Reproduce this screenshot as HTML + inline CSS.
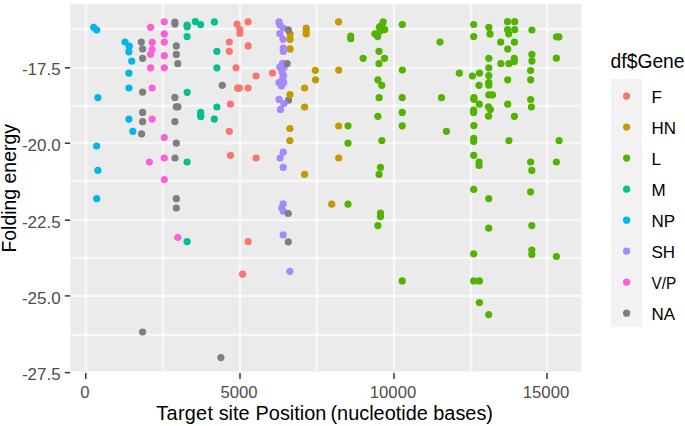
<!DOCTYPE html>
<html><head><meta charset="utf-8"><style>
html,body{margin:0;padding:0;background:#fff;}
body{width:685px;height:426px;overflow:hidden;}
svg{display:block;}
text{font-family:"Liberation Sans",sans-serif;}
.ax{font-size:17px;fill:#4D4D4D;}
.ti{font-size:19.9px;fill:#000;}
.lt{font-size:17px;fill:#000;}
.gl{stroke:#fff;stroke-width:2.0;stroke-opacity:0.58;}
.gw{stroke:#fff;stroke-width:3.3;stroke-opacity:0.22;}
</style></head><body>
<svg width="685" height="426" viewBox="0 0 685 426">
<defs><clipPath id="pc"><rect x="70.2" y="3.9" width="511.10" height="367.60"/></clipPath></defs>
<rect x="70.2" y="3.9" width="511.10" height="367.60" fill="#EBEBEB"/>
<g clip-path="url(#pc)"><line x1="85.80" y1="3.9" x2="85.80" y2="371.5" class="gw"/><line x1="85.80" y1="3.9" x2="85.80" y2="371.5" class="gl"/><line x1="162.90" y1="3.9" x2="162.90" y2="371.5" class="gw"/><line x1="162.90" y1="3.9" x2="162.90" y2="371.5" class="gl"/><line x1="240.00" y1="3.9" x2="240.00" y2="371.5" class="gw"/><line x1="240.00" y1="3.9" x2="240.00" y2="371.5" class="gl"/><line x1="316.80" y1="3.9" x2="316.80" y2="371.5" class="gw"/><line x1="316.80" y1="3.9" x2="316.80" y2="371.5" class="gl"/><line x1="394.00" y1="3.9" x2="394.00" y2="371.5" class="gw"/><line x1="394.00" y1="3.9" x2="394.00" y2="371.5" class="gl"/><line x1="471.00" y1="3.9" x2="471.00" y2="371.5" class="gw"/><line x1="471.00" y1="3.9" x2="471.00" y2="371.5" class="gl"/><line x1="547.00" y1="3.9" x2="547.00" y2="371.5" class="gw"/><line x1="547.00" y1="3.9" x2="547.00" y2="371.5" class="gl"/><line x1="70.2" y1="29.00" x2="581.3" y2="29.00" class="gw"/><line x1="70.2" y1="29.00" x2="581.3" y2="29.00" class="gl"/><line x1="70.2" y1="67.80" x2="581.3" y2="67.80" class="gw"/><line x1="70.2" y1="67.80" x2="581.3" y2="67.80" class="gl"/><line x1="70.2" y1="105.80" x2="581.3" y2="105.80" class="gw"/><line x1="70.2" y1="105.80" x2="581.3" y2="105.80" class="gl"/><line x1="70.2" y1="143.20" x2="581.3" y2="143.20" class="gw"/><line x1="70.2" y1="143.20" x2="581.3" y2="143.20" class="gl"/><line x1="70.2" y1="181.00" x2="581.3" y2="181.00" class="gw"/><line x1="70.2" y1="181.00" x2="581.3" y2="181.00" class="gl"/><line x1="70.2" y1="220.20" x2="581.3" y2="220.20" class="gw"/><line x1="70.2" y1="220.20" x2="581.3" y2="220.20" class="gl"/><line x1="70.2" y1="257.90" x2="581.3" y2="257.90" class="gw"/><line x1="70.2" y1="257.90" x2="581.3" y2="257.90" class="gl"/><line x1="70.2" y1="295.90" x2="581.3" y2="295.90" class="gw"/><line x1="70.2" y1="295.90" x2="581.3" y2="295.90" class="gl"/><line x1="70.2" y1="334.90" x2="581.3" y2="334.90" class="gw"/><line x1="70.2" y1="334.90" x2="581.3" y2="334.90" class="gl"/></g>
<g clip-path="url(#pc)"><circle cx="288.5" cy="100.2" r="3.6" fill="#7F7F7F"/><circle cx="237.1" cy="24.2" r="3.6" fill="#F8766D"/><circle cx="239.8" cy="29.6" r="3.6" fill="#F8766D"/><circle cx="239.8" cy="33.5" r="3.6" fill="#F8766D"/><circle cx="248.1" cy="21.8" r="3.6" fill="#F8766D"/><circle cx="229.3" cy="42.0" r="3.6" fill="#F8766D"/><circle cx="248.1" cy="45.9" r="3.6" fill="#F8766D"/><circle cx="229.3" cy="51.3" r="3.6" fill="#F8766D"/><circle cx="236.0" cy="67.8" r="3.6" fill="#F8766D"/><circle cx="272.5" cy="73.1" r="3.6" fill="#F8766D"/><circle cx="256.1" cy="76.0" r="3.6" fill="#F8766D"/><circle cx="237.6" cy="88.1" r="3.6" fill="#F8766D"/><circle cx="239.4" cy="88.1" r="3.6" fill="#F8766D"/><circle cx="248.1" cy="88.0" r="3.6" fill="#F8766D"/><circle cx="230.5" cy="104.2" r="3.6" fill="#F8766D"/><circle cx="229.3" cy="131.3" r="3.6" fill="#F8766D"/><circle cx="230.5" cy="155.3" r="3.6" fill="#F8766D"/><circle cx="256.1" cy="158.0" r="3.6" fill="#F8766D"/><circle cx="248.1" cy="241.7" r="3.6" fill="#F8766D"/><circle cx="242.6" cy="274.2" r="3.6" fill="#F8766D"/><circle cx="290.1" cy="34.1" r="3.6" fill="#C49A00"/><circle cx="290.1" cy="39.3" r="3.6" fill="#C49A00"/><circle cx="290.1" cy="48.9" r="3.6" fill="#C49A00"/><circle cx="306.2" cy="28.0" r="3.6" fill="#C49A00"/><circle cx="306.2" cy="31.0" r="3.6" fill="#C49A00"/><circle cx="306.2" cy="34.0" r="3.6" fill="#C49A00"/><circle cx="338.6" cy="21.8" r="3.6" fill="#C49A00"/><circle cx="315.3" cy="70.3" r="3.6" fill="#C49A00"/><circle cx="290.0" cy="94.6" r="3.6" fill="#C49A00"/><circle cx="338.7" cy="70.1" r="3.6" fill="#C49A00"/><circle cx="315.5" cy="79.8" r="3.6" fill="#C49A00"/><circle cx="304.6" cy="88.0" r="3.6" fill="#C49A00"/><circle cx="304.6" cy="107.0" r="3.6" fill="#C49A00"/><circle cx="289.9" cy="128.5" r="3.6" fill="#C49A00"/><circle cx="289.9" cy="140.6" r="3.6" fill="#C49A00"/><circle cx="304.6" cy="174.4" r="3.6" fill="#C49A00"/><circle cx="338.7" cy="158.0" r="3.6" fill="#C49A00"/><circle cx="331.7" cy="204.2" r="3.6" fill="#C49A00"/><circle cx="338.7" cy="126.0" r="3.6" fill="#C49A00"/><circle cx="350.7" cy="36.1" r="3.6" fill="#53B400"/><circle cx="350.7" cy="38.7" r="3.6" fill="#53B400"/><circle cx="383.2" cy="21.9" r="3.6" fill="#53B400"/><circle cx="379.4" cy="27.1" r="3.6" fill="#53B400"/><circle cx="384.7" cy="29.6" r="3.6" fill="#53B400"/><circle cx="374.9" cy="33.8" r="3.6" fill="#53B400"/><circle cx="377.7" cy="36.6" r="3.6" fill="#53B400"/><circle cx="402.3" cy="24.5" r="3.6" fill="#53B400"/><circle cx="440.0" cy="42.0" r="3.6" fill="#53B400"/><circle cx="379.0" cy="51.3" r="3.6" fill="#53B400"/><circle cx="363.1" cy="58.3" r="3.6" fill="#53B400"/><circle cx="384.5" cy="58.3" r="3.6" fill="#53B400"/><circle cx="379.0" cy="63.7" r="3.6" fill="#53B400"/><circle cx="402.3" cy="70.0" r="3.6" fill="#53B400"/><circle cx="473.7" cy="24.5" r="3.6" fill="#53B400"/><circle cx="473.7" cy="36.6" r="3.6" fill="#53B400"/><circle cx="488.8" cy="27.3" r="3.6" fill="#53B400"/><circle cx="490.0" cy="33.9" r="3.6" fill="#53B400"/><circle cx="507.5" cy="21.7" r="3.6" fill="#53B400"/><circle cx="514.7" cy="21.7" r="3.6" fill="#53B400"/><circle cx="507.5" cy="29.5" r="3.6" fill="#53B400"/><circle cx="514.7" cy="29.6" r="3.6" fill="#53B400"/><circle cx="508.7" cy="33.8" r="3.6" fill="#53B400"/><circle cx="500.7" cy="42.2" r="3.6" fill="#53B400"/><circle cx="514.4" cy="42.2" r="3.6" fill="#53B400"/><circle cx="507.7" cy="49.0" r="3.6" fill="#53B400"/><circle cx="488.8" cy="58.3" r="3.6" fill="#53B400"/><circle cx="514.3" cy="58.3" r="3.6" fill="#53B400"/><circle cx="514.3" cy="61.4" r="3.6" fill="#53B400"/><circle cx="500.9" cy="63.7" r="3.6" fill="#53B400"/><circle cx="508.9" cy="63.7" r="3.6" fill="#53B400"/><circle cx="531.9" cy="30.0" r="3.6" fill="#53B400"/><circle cx="531.9" cy="54.3" r="3.6" fill="#53B400"/><circle cx="531.9" cy="61.1" r="3.6" fill="#53B400"/><circle cx="488.8" cy="67.8" r="3.6" fill="#53B400"/><circle cx="530.6" cy="70.5" r="3.6" fill="#53B400"/><circle cx="556.5" cy="36.8" r="3.6" fill="#53B400"/><circle cx="559.0" cy="36.8" r="3.6" fill="#53B400"/><circle cx="556.4" cy="58.2" r="3.6" fill="#53B400"/><circle cx="377.9" cy="79.8" r="3.6" fill="#53B400"/><circle cx="381.8" cy="85.3" r="3.6" fill="#53B400"/><circle cx="379.1" cy="97.7" r="3.6" fill="#53B400"/><circle cx="402.2" cy="97.7" r="3.6" fill="#53B400"/><circle cx="441.5" cy="97.7" r="3.6" fill="#53B400"/><circle cx="402.2" cy="112.4" r="3.6" fill="#53B400"/><circle cx="377.9" cy="116.3" r="3.6" fill="#53B400"/><circle cx="402.2" cy="125.8" r="3.6" fill="#53B400"/><circle cx="348.0" cy="125.8" r="3.6" fill="#53B400"/><circle cx="459.3" cy="73.2" r="3.6" fill="#53B400"/><circle cx="472.4" cy="76.0" r="3.6" fill="#53B400"/><circle cx="479.5" cy="73.2" r="3.6" fill="#53B400"/><circle cx="488.8" cy="75.6" r="3.6" fill="#53B400"/><circle cx="488.8" cy="82.6" r="3.6" fill="#53B400"/><circle cx="488.8" cy="85.2" r="3.6" fill="#53B400"/><circle cx="479.0" cy="85.3" r="3.6" fill="#53B400"/><circle cx="488.8" cy="94.8" r="3.6" fill="#53B400"/><circle cx="492.5" cy="94.8" r="3.6" fill="#53B400"/><circle cx="473.9" cy="97.7" r="3.6" fill="#53B400"/><circle cx="473.9" cy="99.5" r="3.6" fill="#53B400"/><circle cx="479.3" cy="104.2" r="3.6" fill="#53B400"/><circle cx="473.6" cy="110.1" r="3.6" fill="#53B400"/><circle cx="473.6" cy="112.4" r="3.6" fill="#53B400"/><circle cx="473.9" cy="125.6" r="3.6" fill="#53B400"/><circle cx="488.5" cy="106.8" r="3.6" fill="#53B400"/><circle cx="490.4" cy="109.6" r="3.6" fill="#53B400"/><circle cx="488.5" cy="116.2" r="3.6" fill="#53B400"/><circle cx="507.7" cy="79.8" r="3.6" fill="#53B400"/><circle cx="530.7" cy="79.8" r="3.6" fill="#53B400"/><circle cx="507.7" cy="104.2" r="3.6" fill="#53B400"/><circle cx="530.7" cy="99.5" r="3.6" fill="#53B400"/><circle cx="531.4" cy="107.0" r="3.6" fill="#53B400"/><circle cx="514.4" cy="116.3" r="3.6" fill="#53B400"/><circle cx="348.0" cy="143.2" r="3.6" fill="#53B400"/><circle cx="446.4" cy="131.3" r="3.6" fill="#53B400"/><circle cx="381.8" cy="140.6" r="3.6" fill="#53B400"/><circle cx="380.5" cy="167.4" r="3.6" fill="#53B400"/><circle cx="379.1" cy="174.4" r="3.6" fill="#53B400"/><circle cx="473.7" cy="138.3" r="3.6" fill="#53B400"/><circle cx="473.7" cy="141.4" r="3.6" fill="#53B400"/><circle cx="508.9" cy="140.6" r="3.6" fill="#53B400"/><circle cx="473.7" cy="155.3" r="3.6" fill="#53B400"/><circle cx="479.1" cy="162.0" r="3.6" fill="#53B400"/><circle cx="479.1" cy="165.4" r="3.6" fill="#53B400"/><circle cx="530.6" cy="162.0" r="3.6" fill="#53B400"/><circle cx="531.8" cy="170.4" r="3.6" fill="#53B400"/><circle cx="559.1" cy="140.6" r="3.6" fill="#53B400"/><circle cx="556.4" cy="162.0" r="3.6" fill="#53B400"/><circle cx="348.0" cy="204.2" r="3.6" fill="#53B400"/><circle cx="380.5" cy="213.1" r="3.6" fill="#53B400"/><circle cx="380.5" cy="216.6" r="3.6" fill="#53B400"/><circle cx="377.9" cy="225.6" r="3.6" fill="#53B400"/><circle cx="473.7" cy="189.4" r="3.6" fill="#53B400"/><circle cx="488.7" cy="198.7" r="3.6" fill="#53B400"/><circle cx="530.6" cy="191.8" r="3.6" fill="#53B400"/><circle cx="488.7" cy="228.2" r="3.6" fill="#53B400"/><circle cx="531.8" cy="225.6" r="3.6" fill="#53B400"/><circle cx="402.2" cy="280.9" r="3.6" fill="#53B400"/><circle cx="473.7" cy="253.8" r="3.6" fill="#53B400"/><circle cx="531.8" cy="250.0" r="3.6" fill="#53B400"/><circle cx="531.8" cy="254.5" r="3.6" fill="#53B400"/><circle cx="473.7" cy="280.9" r="3.6" fill="#53B400"/><circle cx="479.4" cy="280.9" r="3.6" fill="#53B400"/><circle cx="479.4" cy="302.6" r="3.6" fill="#53B400"/><circle cx="556.4" cy="256.5" r="3.6" fill="#53B400"/><circle cx="488.7" cy="314.6" r="3.6" fill="#53B400"/><circle cx="380.1" cy="31.0" r="3.6" fill="#53B400"/><circle cx="381.8" cy="25.2" r="3.6" fill="#53B400"/><circle cx="187.1" cy="25.0" r="3.6" fill="#00C094"/><circle cx="187.1" cy="26.8" r="3.6" fill="#00C094"/><circle cx="195.3" cy="21.6" r="3.6" fill="#00C094"/><circle cx="200.6" cy="24.6" r="3.6" fill="#00C094"/><circle cx="214.3" cy="21.9" r="3.6" fill="#00C094"/><circle cx="187.1" cy="36.6" r="3.6" fill="#00C094"/><circle cx="216.9" cy="51.3" r="3.6" fill="#00C094"/><circle cx="216.9" cy="67.8" r="3.6" fill="#00C094"/><circle cx="187.2" cy="92.3" r="3.6" fill="#00C094"/><circle cx="216.9" cy="107.0" r="3.6" fill="#00C094"/><circle cx="200.7" cy="112.3" r="3.6" fill="#00C094"/><circle cx="200.7" cy="116.6" r="3.6" fill="#00C094"/><circle cx="214.3" cy="119.1" r="3.6" fill="#00C094"/><circle cx="187.1" cy="162.0" r="3.6" fill="#00C094"/><circle cx="187.1" cy="241.7" r="3.6" fill="#00C094"/><circle cx="200.7" cy="114.5" r="3.6" fill="#00C094"/><circle cx="93.7" cy="27.3" r="3.6" fill="#00B6EB"/><circle cx="96.7" cy="30.0" r="3.6" fill="#00B6EB"/><circle cx="125.0" cy="42.0" r="3.6" fill="#00B6EB"/><circle cx="129.2" cy="46.2" r="3.6" fill="#00B6EB"/><circle cx="128.9" cy="51.8" r="3.6" fill="#00B6EB"/><circle cx="131.7" cy="61.1" r="3.6" fill="#00B6EB"/><circle cx="128.9" cy="73.2" r="3.6" fill="#00B6EB"/><circle cx="128.9" cy="88.0" r="3.6" fill="#00B6EB"/><circle cx="97.9" cy="97.7" r="3.6" fill="#00B6EB"/><circle cx="128.9" cy="119.1" r="3.6" fill="#00B6EB"/><circle cx="132.8" cy="131.3" r="3.6" fill="#00B6EB"/><circle cx="96.7" cy="146.0" r="3.6" fill="#00B6EB"/><circle cx="97.9" cy="170.4" r="3.6" fill="#00B6EB"/><circle cx="96.7" cy="198.7" r="3.6" fill="#00B6EB"/><circle cx="279.0" cy="21.9" r="3.6" fill="#A58AFF"/><circle cx="279.9" cy="25.0" r="3.6" fill="#A58AFF"/><circle cx="283.3" cy="28.0" r="3.6" fill="#A58AFF"/><circle cx="279.9" cy="33.7" r="3.6" fill="#A58AFF"/><circle cx="283.0" cy="39.3" r="3.6" fill="#A58AFF"/><circle cx="283.3" cy="48.2" r="3.6" fill="#A58AFF"/><circle cx="283.3" cy="51.5" r="3.6" fill="#A58AFF"/><circle cx="282.5" cy="63.4" r="3.6" fill="#A58AFF"/><circle cx="279.8" cy="67.0" r="3.6" fill="#A58AFF"/><circle cx="284.0" cy="67.7" r="3.6" fill="#A58AFF"/><circle cx="281.9" cy="71.8" r="3.6" fill="#A58AFF"/><circle cx="283.6" cy="75.6" r="3.6" fill="#A58AFF"/><circle cx="282.6" cy="78.4" r="3.6" fill="#A58AFF"/><circle cx="279.0" cy="82.6" r="3.6" fill="#A58AFF"/><circle cx="283.8" cy="82.6" r="3.6" fill="#A58AFF"/><circle cx="281.5" cy="86.0" r="3.6" fill="#A58AFF"/><circle cx="279.1" cy="99.4" r="3.6" fill="#A58AFF"/><circle cx="283.9" cy="103.5" r="3.6" fill="#A58AFF"/><circle cx="280.5" cy="109.4" r="3.6" fill="#A58AFF"/><circle cx="283.2" cy="152.2" r="3.6" fill="#A58AFF"/><circle cx="280.1" cy="158.0" r="3.6" fill="#A58AFF"/><circle cx="283.2" cy="167.4" r="3.6" fill="#A58AFF"/><circle cx="283.2" cy="203.8" r="3.6" fill="#A58AFF"/><circle cx="281.7" cy="208.0" r="3.6" fill="#A58AFF"/><circle cx="283.2" cy="211.1" r="3.6" fill="#A58AFF"/><circle cx="283.2" cy="234.9" r="3.6" fill="#A58AFF"/><circle cx="289.9" cy="271.3" r="3.6" fill="#A58AFF"/><circle cx="150.6" cy="27.3" r="3.6" fill="#FB61D7"/><circle cx="164.3" cy="21.8" r="3.6" fill="#FB61D7"/><circle cx="164.3" cy="33.9" r="3.6" fill="#FB61D7"/><circle cx="152.2" cy="42.3" r="3.6" fill="#FB61D7"/><circle cx="164.3" cy="42.1" r="3.6" fill="#FB61D7"/><circle cx="152.2" cy="49.5" r="3.6" fill="#FB61D7"/><circle cx="150.6" cy="54.3" r="3.6" fill="#FB61D7"/><circle cx="164.3" cy="55.7" r="3.6" fill="#FB61D7"/><circle cx="150.6" cy="67.8" r="3.6" fill="#FB61D7"/><circle cx="164.3" cy="67.8" r="3.6" fill="#FB61D7"/><circle cx="152.2" cy="88.0" r="3.6" fill="#FB61D7"/><circle cx="152.2" cy="119.1" r="3.6" fill="#FB61D7"/><circle cx="164.3" cy="137.5" r="3.6" fill="#FB61D7"/><circle cx="164.3" cy="158.0" r="3.6" fill="#FB61D7"/><circle cx="149.4" cy="162.0" r="3.6" fill="#FB61D7"/><circle cx="164.3" cy="179.7" r="3.6" fill="#FB61D7"/><circle cx="177.8" cy="237.5" r="3.6" fill="#FB61D7"/><circle cx="141.3" cy="42.1" r="3.6" fill="#7F7F7F"/><circle cx="142.6" cy="49.0" r="3.6" fill="#7F7F7F"/><circle cx="142.6" cy="58.3" r="3.6" fill="#7F7F7F"/><circle cx="174.9" cy="22.1" r="3.6" fill="#7F7F7F"/><circle cx="174.9" cy="24.1" r="3.6" fill="#7F7F7F"/><circle cx="176.3" cy="45.9" r="3.6" fill="#7F7F7F"/><circle cx="176.3" cy="54.4" r="3.6" fill="#7F7F7F"/><circle cx="177.8" cy="63.7" r="3.6" fill="#7F7F7F"/><circle cx="288.3" cy="29.8" r="3.6" fill="#7F7F7F"/><circle cx="287.1" cy="63.7" r="3.6" fill="#7F7F7F"/><circle cx="142.6" cy="92.2" r="3.6" fill="#7F7F7F"/><circle cx="142.6" cy="112.4" r="3.6" fill="#7F7F7F"/><circle cx="142.6" cy="121.7" r="3.6" fill="#7F7F7F"/><circle cx="222.3" cy="85.3" r="3.6" fill="#7F7F7F"/><circle cx="174.9" cy="97.4" r="3.6" fill="#7F7F7F"/><circle cx="176.3" cy="106.8" r="3.6" fill="#7F7F7F"/><circle cx="178.0" cy="106.8" r="3.6" fill="#7F7F7F"/><circle cx="174.9" cy="121.6" r="3.6" fill="#7F7F7F"/><circle cx="141.6" cy="133.9" r="3.6" fill="#7F7F7F"/><circle cx="176.3" cy="143.2" r="3.6" fill="#7F7F7F"/><circle cx="175.0" cy="158.0" r="3.6" fill="#7F7F7F"/><circle cx="176.3" cy="198.7" r="3.6" fill="#7F7F7F"/><circle cx="176.3" cy="208.0" r="3.6" fill="#7F7F7F"/><circle cx="288.3" cy="213.5" r="3.6" fill="#7F7F7F"/><circle cx="288.3" cy="241.8" r="3.6" fill="#7F7F7F"/><circle cx="142.6" cy="332.0" r="3.6" fill="#7F7F7F"/><circle cx="220.9" cy="357.6" r="3.6" fill="#7F7F7F"/></g>
<line x1="64.8" y1="67.80" x2="70.2" y2="67.80" stroke="#333" stroke-width="1.45"/><line x1="64.8" y1="143.20" x2="70.2" y2="143.20" stroke="#333" stroke-width="1.45"/><line x1="64.8" y1="220.20" x2="70.2" y2="220.20" stroke="#333" stroke-width="1.45"/><line x1="64.8" y1="295.90" x2="70.2" y2="295.90" stroke="#333" stroke-width="1.45"/><line x1="64.8" y1="372.60" x2="70.2" y2="372.60" stroke="#333" stroke-width="1.45"/><line x1="85.80" y1="373.0" x2="85.80" y2="378.9" stroke="#333" stroke-width="1.45"/><line x1="240.00" y1="373.0" x2="240.00" y2="378.9" stroke="#333" stroke-width="1.45"/><line x1="394.00" y1="373.0" x2="394.00" y2="378.9" stroke="#333" stroke-width="1.45"/><line x1="547.00" y1="373.0" x2="547.00" y2="378.9" stroke="#333" stroke-width="1.45"/>
<text x="60.7" y="75.40" text-anchor="end" class="ax">-17.5</text><text x="60.7" y="150.80" text-anchor="end" class="ax">-20.0</text><text x="60.7" y="227.80" text-anchor="end" class="ax">-22.5</text><text x="60.7" y="303.50" text-anchor="end" class="ax">-25.0</text><text x="60.7" y="380.20" text-anchor="end" class="ax">-27.5</text><text x="84.80" y="397.6" text-anchor="middle" class="ax" style="font-size:16.7px">0</text><text x="239.00" y="397.6" text-anchor="middle" class="ax" style="font-size:16.7px">5000</text><text x="393.00" y="397.6" text-anchor="middle" class="ax" style="font-size:16.7px">10000</text><text x="546.00" y="397.6" text-anchor="middle" class="ax" style="font-size:16.7px">15000</text>
<text y="420.2" class="ti"><tspan x="156.35" textLength="56.6" lengthAdjust="spacing">Target</tspan><tspan x="218.65">site</tspan><tspan x="255.6">Position</tspan><tspan x="330.5">(nucleotide</tspan><tspan x="433.3">bases)</tspan></text>
<text transform="translate(16.3,188.3) rotate(-90)" text-anchor="middle" class="ti" style="font-size:19.45px">Folding energy</text>
<text x="610.6" y="68.2" class="ti" style="font-size:19.3px">df$Gene</text><rect x="610.9" y="79.0" width="31.1" height="248.1" fill="#F2F2F2"/><circle cx="626.6" cy="96.10" r="3.6" fill="#F8766D"/><text x="651.4" y="103.40" class="lt">F</text><circle cx="626.6" cy="127.11" r="3.6" fill="#C49A00"/><text x="651.4" y="134.41" class="lt">HN</text><circle cx="626.6" cy="158.12" r="3.6" fill="#53B400"/><text x="651.4" y="165.42" class="lt">L</text><circle cx="626.6" cy="189.13" r="3.6" fill="#00C094"/><text x="651.4" y="196.43" class="lt">M</text><circle cx="626.6" cy="220.14" r="3.6" fill="#00B6EB"/><text x="651.4" y="227.44" class="lt">NP</text><circle cx="626.6" cy="251.15" r="3.6" fill="#A58AFF"/><text x="651.4" y="258.45" class="lt">SH</text><circle cx="626.6" cy="282.16" r="3.6" fill="#FB61D7"/><text x="651.4" y="289.46" class="lt" textLength="24.8" lengthAdjust="spacingAndGlyphs">V/P</text><circle cx="626.6" cy="313.17" r="3.6" fill="#7F7F7F"/><text x="651.4" y="320.47" class="lt">NA</text>
</svg>
</body></html>
